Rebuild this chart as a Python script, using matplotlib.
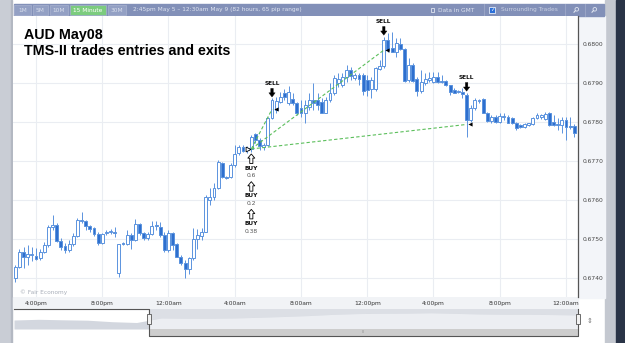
import matplotlib
matplotlib.use('Agg')
import matplotlib.pyplot as plt
import matplotlib.patches as mpatches
import matplotlib.transforms as mtrans
import numpy as np
import pandas as pd


# THE DATA ********************************************************************

# 15-minute AUD/USD candles, 2:45pm May 7 -> 12:30am May 9 2008
times = pd.date_range('2008-05-07 14:45', periods=136, freq='15min')

opens = [0.67398, 0.67428, 0.67466, 0.67453, 0.67458, 0.67456, 0.67450, 0.67467, 0.67484, 0.67530,
         0.67536, 0.67495, 0.67482, 0.67470, 0.67486, 0.67507, 0.67546, 0.67547, 0.67533, 0.67527,
         0.67512, 0.67489, 0.67516, 0.67518, 0.67518, 0.67411, 0.67490, 0.67486, 0.67510, 0.67497,
         0.67538, 0.67514, 0.67501, 0.67512, 0.67533, 0.67530, 0.67510, 0.67470, 0.67514, 0.67487,
         0.67454, 0.67439, 0.67422, 0.67450, 0.67499, 0.67508, 0.67518, 0.67600, 0.67608, 0.67630,
         0.67694, 0.67660, 0.67658, 0.67690, 0.67720, 0.67735, 0.67728, 0.67730, 0.67769, 0.67754,
         0.67735, 0.67741, 0.67810, 0.67831, 0.67852, 0.67874, 0.67848, 0.67859, 0.67848, 0.67836,
         0.67823, 0.67840, 0.67857, 0.67857, 0.67852, 0.67824, 0.67857, 0.67874, 0.67900, 0.67895,
         0.67917, 0.67934, 0.67913, 0.67921, 0.67921, 0.67908, 0.67884, 0.67884, 0.67937, 0.67945,
         0.68011, 0.67990, 0.67981, 0.68001, 0.67987, 0.67908, 0.67947, 0.67910, 0.67881, 0.67900,
         0.67908, 0.67904, 0.67917, 0.67906, 0.67906, 0.67895, 0.67883, 0.67878, 0.67878, 0.67870,
         0.67805, 0.67836, 0.67855, 0.67859, 0.67824, 0.67804, 0.67812, 0.67801, 0.67812, 0.67812,
         0.67810, 0.67797, 0.67793, 0.67787, 0.67793, 0.67795, 0.67810, 0.67812, 0.67807, 0.67824,
         0.67801, 0.67795, 0.67793, 0.67805, 0.67790, 0.67790]
highs = [0.67433, 0.67473, 0.67479, 0.67484, 0.67479, 0.67476, 0.67474, 0.67493, 0.67536, 0.67561,
         0.67540, 0.67501, 0.67489, 0.67497, 0.67514, 0.67553, 0.67570, 0.67548, 0.67536, 0.67531,
         0.67518, 0.67514, 0.67523, 0.67525, 0.67531, 0.67487, 0.67492, 0.67523, 0.67514, 0.67550,
         0.67540, 0.67518, 0.67518, 0.67547, 0.67547, 0.67544, 0.67518, 0.67523, 0.67518, 0.67489,
         0.67458, 0.67446, 0.67453, 0.67527, 0.67525, 0.67527, 0.67613, 0.67630, 0.67643, 0.67703,
         0.67698, 0.67662, 0.67694, 0.67741, 0.67741, 0.67741, 0.67739, 0.67767, 0.67773, 0.67758,
         0.67747, 0.67814, 0.67861, 0.67865, 0.67878, 0.67884, 0.67893, 0.67874, 0.67852, 0.67857,
         0.67857, 0.67874, 0.67900, 0.67874, 0.67861, 0.67865, 0.67900, 0.67921, 0.67925, 0.67925,
         0.67947, 0.67942, 0.67925, 0.67925, 0.67925, 0.67921, 0.67917, 0.67942, 0.67960, 0.68020,
         0.68028, 0.68032, 0.68015, 0.68015, 0.67990, 0.67964, 0.67951, 0.67917, 0.67934, 0.67925,
         0.67930, 0.67930, 0.67930, 0.67921, 0.67908, 0.67895, 0.67887, 0.67883, 0.67887, 0.67876,
         0.67844, 0.67861, 0.67859, 0.67861, 0.67827, 0.67818, 0.67818, 0.67824, 0.67823, 0.67818,
         0.67814, 0.67801, 0.67795, 0.67797, 0.67799, 0.67814, 0.67823, 0.67821, 0.67827, 0.67827,
         0.67818, 0.67810, 0.67814, 0.67814, 0.67814, 0.67795]
lows = [0.67390, 0.67425, 0.67425, 0.67433, 0.67443, 0.67446, 0.67446, 0.67464, 0.67479, 0.67523,
        0.67493, 0.67471, 0.67463, 0.67467, 0.67482, 0.67505, 0.67540, 0.67523, 0.67518, 0.67507,
        0.67484, 0.67487, 0.67510, 0.67513, 0.67504, 0.67403, 0.67484, 0.67484, 0.67473, 0.67495,
        0.67510, 0.67497, 0.67497, 0.67510, 0.67523, 0.67505, 0.67467, 0.67467, 0.67471, 0.67453,
        0.67433, 0.67398, 0.67409, 0.67446, 0.67473, 0.67497, 0.67518, 0.67587, 0.67600, 0.67627,
        0.67656, 0.67653, 0.67656, 0.67685, 0.67715, 0.67723, 0.67721, 0.67724, 0.67746, 0.67728,
        0.67728, 0.67739, 0.67808, 0.67823, 0.67848, 0.67857, 0.67844, 0.67844, 0.67818, 0.67814,
        0.67797, 0.67831, 0.67831, 0.67831, 0.67823, 0.67823, 0.67852, 0.67870, 0.67891, 0.67891,
        0.67904, 0.67908, 0.67908, 0.67895, 0.67870, 0.67867, 0.67861, 0.67881, 0.67934, 0.67938,
        0.67979, 0.67981, 0.67968, 0.67985, 0.67904, 0.67904, 0.67904, 0.67867, 0.67876, 0.67895,
        0.67904, 0.67900, 0.67900, 0.67900, 0.67894, 0.67870, 0.67874, 0.67876, 0.67861, 0.67763,
        0.67801, 0.67831, 0.67850, 0.67823, 0.67801, 0.67797, 0.67797, 0.67799, 0.67805, 0.67797,
        0.67795, 0.67780, 0.67784, 0.67784, 0.67791, 0.67793, 0.67807, 0.67807, 0.67805, 0.67790,
        0.67790, 0.67780, 0.67771, 0.67754, 0.67782, 0.67763]
closes = [0.67427, 0.67466, 0.67453, 0.67461, 0.67460, 0.67448, 0.67467, 0.67484, 0.67530, 0.67536,
          0.67495, 0.67479, 0.67470, 0.67486, 0.67507, 0.67548, 0.67548, 0.67533, 0.67526, 0.67512,
          0.67489, 0.67512, 0.67518, 0.67518, 0.67514, 0.67486, 0.67486, 0.67510, 0.67497, 0.67538,
          0.67514, 0.67501, 0.67512, 0.67533, 0.67535, 0.67510, 0.67470, 0.67514, 0.67484, 0.67454,
          0.67439, 0.67422, 0.67450, 0.67499, 0.67510, 0.67518, 0.67608, 0.67608, 0.67630, 0.67698,
          0.67660, 0.67657, 0.67690, 0.67717, 0.67735, 0.67727, 0.67733, 0.67763, 0.67754, 0.67739,
          0.67741, 0.67810, 0.67857, 0.67855, 0.67865, 0.67864, 0.67878, 0.67848, 0.67823, 0.67823,
          0.67844, 0.67857, 0.67850, 0.67844, 0.67824, 0.67857, 0.67874, 0.67913, 0.67911, 0.67917,
          0.67934, 0.67919, 0.67921, 0.67910, 0.67881, 0.67883, 0.67908, 0.67938, 0.67945, 0.68011,
          0.67985, 0.67981, 0.68003, 0.67987, 0.67906, 0.67947, 0.67906, 0.67881, 0.67904, 0.67910,
          0.67913, 0.67915, 0.67902, 0.67902, 0.67895, 0.67878, 0.67876, 0.67878, 0.67872, 0.67805,
          0.67836, 0.67857, 0.67857, 0.67824, 0.67804, 0.67812, 0.67801, 0.67816, 0.67816, 0.67799,
          0.67797, 0.67784, 0.67787, 0.67794, 0.67797, 0.67810, 0.67818, 0.67818, 0.67821, 0.67793,
          0.67793, 0.67793, 0.67805, 0.67787, 0.67787, 0.67771]

price_ticks = [0.6740, 0.6750, 0.6760, 0.6770, 0.6780, 0.6790, 0.6800]

# TMS-II trades
buy_time = '2008-05-08 05:00'
buy_price = 0.67731
buy_lots = ['0.6', '0.2', '0.38']
sell_times = ['2008-05-08 06:15', '2008-05-08 13:00', '2008-05-08 18:00']
sell_prices = [0.67833, 0.67985, 0.67794]

# navigator (whole 82 hours), rough level of the overview line
nav_close = [0.67540, 0.67582, 0.67552, 0.67528, 0.67438, 0.67390, 0.67660, 0.67642, 0.67642, 0.67660,
             0.67702, 0.67750, 0.67804, 0.67876, 0.67924, 0.67942, 0.67948, 0.67972, 0.67936, 0.67900,
             0.67882, 0.67882, 0.67864, 0.67840]
nav_sel_start = 5.5


# THE CHART *******************************************************************

W, H = 625, 343
def px_rect(x0, y0, x1, y1):
    return [x0 / W, 1 - y1 / H, (x1 - x0) / W, (y1 - y0) / H]

fig = plt.figure(figsize=(6.25, 3.43), dpi=100, facecolor='white')

# background / page chrome, in pixel coordinates
bg = fig.add_axes([0, 0, 1, 1], zorder=0)
bg.set_xlim(0, W)
bg.set_ylim(H, 0)
bg.axis('off')

bg.add_patch(mpatches.Rectangle((0, 0), 11, H, color='#c9cdd5'))
bg.add_patch(mpatches.Rectangle((11, 0), 1, H, color='#b3b8c2'))
bg.add_patch(mpatches.Rectangle((605, 0), 11, H, color='#c4c8d0'))
bg.add_patch(mpatches.Rectangle((616, 0), 9, H, color='#2a3447'))
bg.add_patch(mpatches.Rectangle((578, 16), 27, 282, color='#f3f5f9'))
bg.add_patch(mpatches.Rectangle((13, 297), 565, 12, color='#f1f3f6'))

# toolbar
tb_text = '#dfe4f0'
bg.add_patch(mpatches.Rectangle((14, 4), 590, 11.5, color='#8290b8'))
buttons = [('1M', 14, 31), ('5M', 33, 48), ('10M', 50, 68), ('15 Minute', 70, 106), ('30M', 108, 126)]
for lab, x0, x1 in buttons:
    active = lab == '15 Minute'
    bg.add_patch(mpatches.Rectangle((x0, 5), x1 - x0, 9.5, fc='#7ccc7e' if active else '#93a0c4',
                                    ec='#a9b3d0', lw=0.5))
    bg.text((x0 + x1) / 2, 10, lab, ha='center', va='center', fontsize=4.2,
            color='white' if active else '#d8deec')
bg.text(133, 10, '2:45pm May 5 \u2013 12:30am May 9 (82 hours, 65 pip range)', ha='left', va='center',
        fontsize=4.2, color=tb_text)
# small "GMT" icon
bg.add_patch(mpatches.Rectangle((431, 8), 3, 4, fc='none', ec=tb_text, lw=0.6))
bg.text(438, 10, 'Data in GMT', ha='left', va='center', fontsize=4.2, color=tb_text)
for sx in [484, 565, 585]:
    bg.plot([sx, sx], [4, 15.5], color='#9ea9c8', lw=0.6)
bg.add_patch(mpatches.Rectangle((489, 7), 6, 6, fc='#2b6fd8', ec='white', lw=0.5))
bg.text(492, 10, '\u2713', ha='center', va='center', fontsize=4, color='white', fontweight='bold')
bg.text(501, 10, 'Surrounding Trades', ha='left', va='center', fontsize=4.2, color='#c9d0e2')
# magnifier icons
for mx in [576, 594]:
    bg.add_patch(mpatches.Circle((mx + 0.8, 9.3), 1.8, fc='none', ec=tb_text, lw=0.6))
    bg.plot([mx - 0.5, mx - 2], [10.6, 12.2], color=tb_text, lw=0.8)
bg.text(590, 321, '\u21d5', ha='center', va='center', fontsize=5, color='#777777')

# main candle chart
ax = fig.add_axes(px_rect(13, 16, 578, 297), zorder=1, facecolor='white')
idx = np.arange(len(times))
o = np.array(opens)
c = np.array(closes)
up = c >= o
edge = '#5b93de'
fills = ['white' if u else '#2e6fce' for u in up]

ax.vlines(idx, lows, highs, color=edge, lw=0.7, zorder=2)
ax.bar(idx, np.maximum(np.abs(c - o), 0.000015), bottom=np.minimum(o, c), width=0.7,
       color=fills, edgecolor=edge, linewidth=0.7, zorder=3)

ax.set_xlim(-0.555, 135.9)
ax.set_ylim(0.673504, 0.680728)

tick_pos = [i for i, t in enumerate(times) if t.minute == 0 and t.hour % 4 == 0]
tick_lab = [times[i].strftime('%I:%M%p').lstrip('0').lower() for i in tick_pos]
ax.set_xticks(tick_pos)
ax.set_xticklabels(tick_lab)
ax.set_yticks(price_ticks)
ax.set_yticklabels([f'{v:.4f}' for v in price_ticks])
ax.yaxis.tick_right()
ax.tick_params(axis='x', length=0, pad=2.6, labelsize=4.3, labelcolor='#333333')
ax.tick_params(axis='y', length=0, pad=3, labelsize=4.3, labelcolor='#444444')
ax.grid(True, color='#eaedf2', lw=0.8, zorder=0)
ax.set_axisbelow(True)
for s in ['top', 'left', 'bottom']:
    ax.spines[s].set_visible(False)
ax.spines['right'].set_color('#555555')
ax.spines['right'].set_linewidth(0.9)

ax.text(0.0125, 0.012, '\u00a9 Fair Economy', transform=ax.transAxes, fontsize=4.2, color='#a9afb9')

# trades
e = times.get_loc(pd.Timestamp(buy_time))
sells = [times.get_loc(pd.Timestamp(t)) for t in sell_times]

for k, p in zip(sells, sell_prices):
    ax.plot([e, k], [buy_price, p], ls=(0, (3, 2)), color='#5cbf5c', lw=0.8, zorder=4)
    ax.plot(k, p, marker='<', ms=3, color='black', mew=0, zorder=5,
            transform=mtrans.offset_copy(ax.transData, fig=fig, x=3.5, y=0, units='dots'))
    hi = highs[k]
    ax.annotate('', xy=(k, hi), xytext=(0, 10), textcoords='offset pixels', zorder=6,
                arrowprops=dict(arrowstyle='simple,head_length=0.6,head_width=0.9,tail_width=0.35',
                                mutation_scale=5, fc='black', ec='black', lw=0.3, shrinkA=0, shrinkB=1))
    ax.annotate('SELL', xy=(k, hi), xytext=(0, 15), textcoords='offset pixels', ha='center',
                va='center', fontsize=4.2, fontweight='bold', color='#111111', zorder=6)

ax.plot(e, buy_price, marker='>', ms=3.5, mfc='white', mec='black', mew=0.6, zorder=5,
        transform=mtrans.offset_copy(ax.transData, fig=fig, x=-3.5, y=0, units='dots'))

lo = lows[e]
for j, lot in enumerate(buy_lots):
    dy = 27.7 * j
    tip = mtrans.offset_copy(ax.transData, fig=fig, x=0, y=-(2.3 + dy), units='dots')
    ax.annotate('', xy=(e, lo), xycoords=tip, xytext=(0, -9.5), textcoords='offset pixels', zorder=6,
                arrowprops=dict(arrowstyle='simple,head_length=0.6,head_width=1.0,tail_width=0.45',
                                mutation_scale=5, fc='white', ec='black', lw=0.6, shrinkA=0, shrinkB=0))
    ax.annotate('BUY', xy=(e, lo), xytext=(0, -(16.6 + dy)), textcoords='offset pixels', ha='center',
                va='center', fontsize=4.2, fontweight='bold', color='#111111', zorder=6)
    ax.annotate(lot, xy=(e, lo), xytext=(0, -(24 + dy)), textcoords='offset pixels', ha='center',
                va='center', fontsize=4.3, color='#555555', zorder=6)

# chart title
fig.text(24 / W, 1 - 39.3 / H, 'AUD May08', fontsize=10.3, fontweight='bold',
         family='Liberation Sans', va='baseline', color='black')
fig.text(24 / W, 1 - 54.8 / H, 'TMS-II trades entries and exits', fontsize=10.3, fontweight='bold',
         family='Liberation Sans', va='baseline', color='black')

# navigator
nav = fig.add_axes(px_rect(14, 309, 578, 329), zorder=1)
nx = np.arange(len(nav_close))
nav.set_xlim(0, nx[-1])
nav.set_ylim(0.6700, 0.6820)
nav.axis('off')
blend = mtrans.blended_transform_factory(nav.transData, nav.transAxes)
nav.axvspan(nav_sel_start, nx[-1], color='#dcdfe5', zorder=0)
nav.fill_between(nx, nav_close, 0.6700, color='#d3d7df', lw=0, zorder=1)
right = nx >= nav_sel_start
rx = np.concatenate([[nav_sel_start], nx[right]])
ry = np.concatenate([[np.interp(nav_sel_start, nx, nav_close)], np.array(nav_close)[right]])
nav.fill_between(rx, ry, 0.6700, color='#eceef2', lw=0, zorder=1)
nav.add_patch(mpatches.Rectangle((nav_sel_start, -0.35), nx[-1] - nav_sel_start, 0.35, transform=blend,
                                 fc='#cdcdcd', ec='none', clip_on=False, zorder=2))
nav.text((nav_sel_start + nx[-1]) / 2, -0.17, 'III', transform=blend, fontsize=2.5, color='#888888',
         ha='center', va='center', clip_on=False)
nav.plot([0, nav_sel_start, nav_sel_start, nx[-1], nx[-1]], [1, 1, -0.35, -0.35, 1], transform=blend,
         color='#555555', lw=0.8, clip_on=False, zorder=3)
for hx in [nav_sel_start, nx[-1]]:
    nav.add_patch(mpatches.Rectangle((hx - 0.07, 0.25), 0.14, 0.5, transform=blend, fc='#f2f2f2',
                                     ec='#555555', lw=0.6, clip_on=False, zorder=4))

fig.savefig('out.png', dpi=100)
